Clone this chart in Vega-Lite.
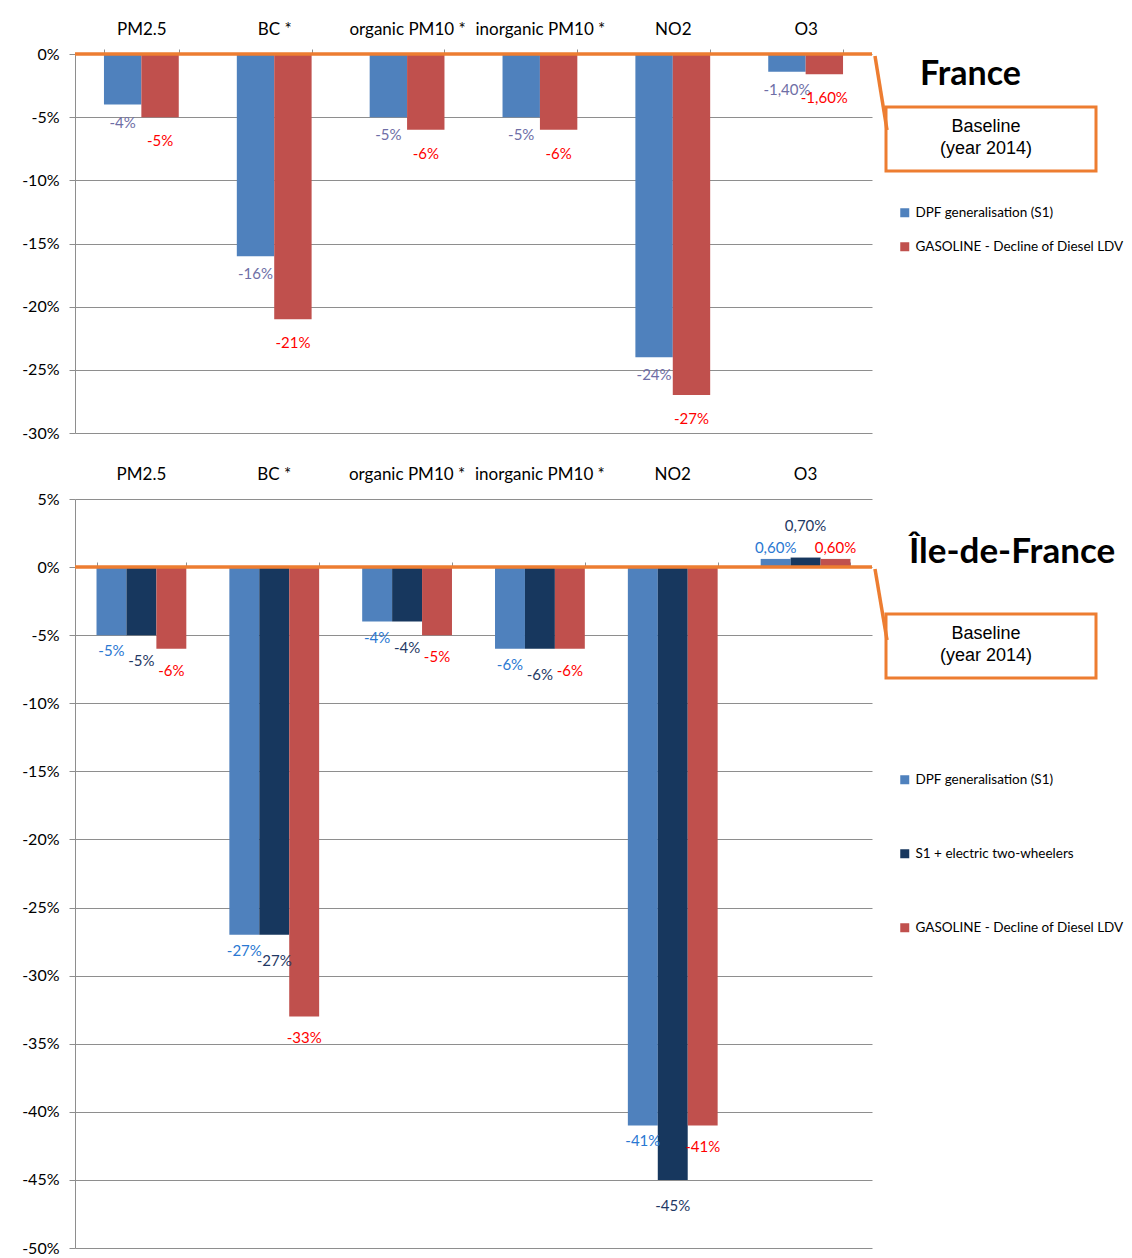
{
  "$schema": "https://vega.github.io/schema/vega-lite/v6.json",
  "background": "white",
  "padding": {"left": 21, "top": 20, "right": 0, "bottom": 0},
  "spacing": 24,
  "config": {"view": {"stroke": null}},
  "resolve": {"scale": {"x": "independent", "y": "independent", "color": "independent", "stroke": "independent", "opacity": "independent", "xOffset": "independent"}},
  "vconcat": [
    {
      "width": 797,
      "height": 379,
      "data": {"values": [
        {"pollutant": "PM2.5", "scenario": "DPF generalisation (S1)", "value": -4, "label": "-4%"},
        {"pollutant": "PM2.5", "scenario": "GASOLINE - Decline of Diesel LDV", "value": -5, "label": "-5%"},
        {"pollutant": "BC *", "scenario": "DPF generalisation (S1)", "value": -16, "label": "-16%"},
        {"pollutant": "BC *", "scenario": "GASOLINE - Decline of Diesel LDV", "value": -21, "label": "-21%"},
        {"pollutant": "organic PM10 *", "scenario": "DPF generalisation (S1)", "value": -5, "label": "-5%"},
        {"pollutant": "organic PM10 *", "scenario": "GASOLINE - Decline of Diesel LDV", "value": -6, "label": "-6%"},
        {"pollutant": "inorganic PM10 *", "scenario": "DPF generalisation (S1)", "value": -5, "label": "-5%"},
        {"pollutant": "inorganic PM10 *", "scenario": "GASOLINE - Decline of Diesel LDV", "value": -6, "label": "-6%"},
        {"pollutant": "NO2", "scenario": "DPF generalisation (S1)", "value": -24, "label": "-24%"},
        {"pollutant": "NO2", "scenario": "GASOLINE - Decline of Diesel LDV", "value": -27, "label": "-27%"},
        {"pollutant": "O3", "scenario": "DPF generalisation (S1)", "value": -1.4, "label": "-1,40%"},
        {"pollutant": "O3", "scenario": "GASOLINE - Decline of Diesel LDV", "value": -1.6, "label": "-1,60%"}
      ]},
      "resolve": {"scale": {"color": "independent"}},
      "layer": [
        {
          "mark": {"type": "bar"},
          "encoding": {
            "x": {"field": "pollutant", "type": "nominal", "sort": ["PM2.5", "BC *", "organic PM10 *", "inorganic PM10 *", "NO2", "O3"],
              "scale": {"paddingInner": 0.437, "paddingOuter": 0.218},
              "axis": {"orient": "top", "title": null, "labelAngle": 0, "domain": false, "tickBand": "extent", "tickSize": 5, "tickColor": "#8E8E8E", "labelPadding": 11, "labelFont": "Lato", "labelFontSize": 17, "labelColor": "#000000", "grid": false}},
            "xOffset": {"field": "scenario", "type": "nominal", "sort": ["DPF generalisation (S1)", "GASOLINE - Decline of Diesel LDV"]},
            "y": {"field": "value", "type": "quantitative", "scale": {"domain": [-30, 0], "nice": false},
              "axis": {"title": null, "values": [-30, -25, -20, -15, -10, -5, 0], "labelExpr": "datum.value + '%'", "grid": true, "gridColor": "#8E8E8E", "domainColor": "#8E8E8E", "tickColor": "#8E8E8E", "tickSize": 6, "labelPadding": 10, "labelFont": "Lato", "labelFontSize": 16, "labelColor": "#000000"}},
            "color": {"field": "scenario", "type": "nominal",
              "scale": {"domain": ["DPF generalisation (S1)", "GASOLINE - Decline of Diesel LDV"], "range": ["#4F81BD", "#C0504D"]},
              "legend": {"orient": "none", "legendX": 823, "legendY": 4, "title": "France", "titleFont": "Lato", "titleFontSize": 34, "titleFontWeight": "bold", "titleColor": "#000000", "titleBaseline": "top", "titleLimit": 400, "titlePadding": 114, "labelFont": "Lato", "labelFontSize": 13.5, "labelColor": "#000000", "labelLimit": 400, "labelOffset": 4, "symbolType": "square", "symbolSize": 81, "symbolStrokeWidth": 0, "rowPadding": 19, "padding": 0,
                "encode": {"title": {"update": {"dx": {"value": 22}}}}}}
          }
        },
        {
          "transform": [{"filter": "datum.scenario == 'DPF generalisation (S1)'"}],
          "mark": {"type": "text", "dy": 18, "font": "Lato", "fontSize": 15, "color": "#6E6EA6"},
          "encoding": {
            "x": {"field": "pollutant", "type": "nominal", "sort": ["PM2.5", "BC *", "organic PM10 *", "inorganic PM10 *", "NO2", "O3"]},
            "xOffset": {"field": "scenario", "type": "nominal", "sort": ["DPF generalisation (S1)", "GASOLINE - Decline of Diesel LDV"]},
            "y": {"field": "value", "type": "quantitative"},
            "text": {"field": "label"}
          }
        },
        {
          "transform": [{"filter": "datum.scenario == 'GASOLINE - Decline of Diesel LDV'"}],
          "mark": {"type": "text", "dy": 24, "font": "Lato", "fontSize": 15, "color": "#FF0000"},
          "encoding": {
            "x": {"field": "pollutant", "type": "nominal", "sort": ["PM2.5", "BC *", "organic PM10 *", "inorganic PM10 *", "NO2", "O3"]},
            "xOffset": {"field": "scenario", "type": "nominal", "sort": ["DPF generalisation (S1)", "GASOLINE - Decline of Diesel LDV"]},
            "y": {"field": "value", "type": "quantitative"},
            "text": {"field": "label"}
          }
        },
        {
          "data": {"values": [{"baseline": "Baseline"}]},
          "mark": {"type": "rule", "strokeWidth": 3.5},
          "encoding": {
            "y": {"datum": 0, "type": "quantitative"},
            "stroke": {"datum": 0, "type": "quantitative", "scale": {"domain": [0, 1], "range": ["#ED7D31", "#ED7D31"]},
              "legend": {"orient": "none", "legendX": 811, "legendY": 53, "direction": "horizontal", "title": ["Baseline", "(year 2014)"], "titleFont": "Liberation Sans", "titleFontSize": 18, "titleFontWeight": "normal", "titleColor": "#000000", "titleAnchor": "middle", "titleAlign": "center", "titleBaseline": "top", "titleLineHeight": 22, "titlePadding": 0, "gradientLength": 188, "gradientThickness": 1, "labelExpr": "''", "labelFontSize": 1, "labelOffset": 0, "padding": 11, "strokeColor": "#ED7D31",
                "encode": {"legend": {"update": {"strokeWidth": {"value": 3}}}, "gradient": {"update": {"opacity": {"value": 0}}}}}},
            "opacity": {"datum": "Baseline", "type": "nominal", "scale": {"domain": ["Baseline"], "range": [1]},
              "legend": {"orient": "none", "legendX": 797, "legendY": -1, "title": null, "labelExpr": "''", "labelFontSize": 1, "labelOffset": 0, "padding": 0, "symbolType": "M0,0L12,74", "symbolSize": 4, "symbolStrokeColor": "#ED7D31", "symbolStrokeWidth": 3.5, "symbolFillColor": "transparent", "symbolOpacity": 1,
                "encode": {"symbols": {"update": {"stroke": {"value": "#ED7D31"}, "strokeWidth": {"value": 3.5}, "fill": {"value": "transparent"}, "opacity": {"value": 1}}}}}}
          }
        }
      ]
    },
    {
      "width": 797,
      "height": 749,
      "data": {"values": [
        {"pollutant": "PM2.5", "scenario": "DPF generalisation (S1)", "value": -5, "label": "-5%"},
        {"pollutant": "PM2.5", "scenario": "S1 + electric two-wheelers", "value": -5, "label": "-5%"},
        {"pollutant": "PM2.5", "scenario": "GASOLINE - Decline of Diesel LDV", "value": -6, "label": "-6%"},
        {"pollutant": "BC *", "scenario": "DPF generalisation (S1)", "value": -27, "label": "-27%"},
        {"pollutant": "BC *", "scenario": "S1 + electric two-wheelers", "value": -27, "label": "-27%"},
        {"pollutant": "BC *", "scenario": "GASOLINE - Decline of Diesel LDV", "value": -33, "label": "-33%"},
        {"pollutant": "organic PM10 *", "scenario": "DPF generalisation (S1)", "value": -4, "label": "-4%"},
        {"pollutant": "organic PM10 *", "scenario": "S1 + electric two-wheelers", "value": -4, "label": "-4%"},
        {"pollutant": "organic PM10 *", "scenario": "GASOLINE - Decline of Diesel LDV", "value": -5, "label": "-5%"},
        {"pollutant": "inorganic PM10 *", "scenario": "DPF generalisation (S1)", "value": -6, "label": "-6%"},
        {"pollutant": "inorganic PM10 *", "scenario": "S1 + electric two-wheelers", "value": -6, "label": "-6%"},
        {"pollutant": "inorganic PM10 *", "scenario": "GASOLINE - Decline of Diesel LDV", "value": -6, "label": "-6%"},
        {"pollutant": "NO2", "scenario": "DPF generalisation (S1)", "value": -41, "label": "-41%"},
        {"pollutant": "NO2", "scenario": "S1 + electric two-wheelers", "value": -45, "label": "-45%"},
        {"pollutant": "NO2", "scenario": "GASOLINE - Decline of Diesel LDV", "value": -41, "label": "-41%"},
        {"pollutant": "O3", "scenario": "DPF generalisation (S1)", "value": 0.6, "label": "0,60%"},
        {"pollutant": "O3", "scenario": "S1 + electric two-wheelers", "value": 0.7, "label": "0,70%"},
        {"pollutant": "O3", "scenario": "GASOLINE - Decline of Diesel LDV", "value": 0.6, "label": "0,60%"}
      ]},
      "resolve": {"scale": {"color": "independent"}, "axis": {"x": "independent"}},
      "layer": [
        {
          "mark": {"type": "bar"},
          "encoding": {
            "x": {"field": "pollutant", "type": "nominal", "sort": ["PM2.5", "BC *", "organic PM10 *", "inorganic PM10 *", "NO2", "O3"],
              "scale": {"paddingInner": 0.324, "paddingOuter": 0.162},
              "axis": {"orient": "top", "title": null, "labelAngle": 0, "domain": false, "ticks": false, "labelPadding": 16, "labelFont": "Lato", "labelFontSize": 17, "labelColor": "#000000", "grid": false}},
            "xOffset": {"field": "scenario", "type": "nominal", "sort": ["DPF generalisation (S1)", "S1 + electric two-wheelers", "GASOLINE - Decline of Diesel LDV"]},
            "y": {"field": "value", "type": "quantitative", "scale": {"domain": [-50, 5], "nice": false},
              "axis": {"title": null, "values": [-50, -45, -40, -35, -30, -25, -20, -15, -10, -5, 0, 5], "labelExpr": "datum.value + '%'", "grid": true, "gridColor": "#8E8E8E", "domainColor": "#8E8E8E", "tickColor": "#8E8E8E", "tickSize": 6, "labelPadding": 10, "labelFont": "Lato", "labelFontSize": 16, "labelColor": "#000000"}},
            "color": {"field": "scenario", "type": "nominal",
              "scale": {"domain": ["DPF generalisation (S1)", "S1 + electric two-wheelers", "GASOLINE - Decline of Diesel LDV"], "range": ["#4F81BD", "#17375E", "#C0504D"]},
              "legend": {"orient": "none", "legendX": 823, "legendY": 36, "title": "Île-de-France", "titleFont": "Lato", "titleFontSize": 35, "titleFontWeight": "bold", "titleColor": "#000000", "titleBaseline": "top", "titleLimit": 400, "titlePadding": 203, "labelFont": "Lato", "labelFontSize": 13.5, "labelColor": "#000000", "labelLimit": 400, "labelOffset": 4, "symbolType": "square", "symbolSize": 81, "symbolStrokeWidth": 0, "rowPadding": 59, "padding": 0,
                "encode": {"title": {"update": {"dx": {"value": 11}}}}}}
          }
        },
        {
          "transform": [{"filter": "datum.value < 0 && datum.scenario == 'DPF generalisation (S1)'"}],
          "mark": {"type": "text", "dy": 16, "font": "Lato", "fontSize": 15, "color": "#2A78D2"},
          "encoding": {
            "x": {"field": "pollutant", "type": "nominal", "sort": ["PM2.5", "BC *", "organic PM10 *", "inorganic PM10 *", "NO2", "O3"],
              "axis": {"orient": "top", "offset": -68, "title": null, "labels": false, "domain": false, "grid": false, "tickBand": "extent", "tickSize": 5, "tickColor": "#8E8E8E"}},
            "xOffset": {"field": "scenario", "type": "nominal", "sort": ["DPF generalisation (S1)", "S1 + electric two-wheelers", "GASOLINE - Decline of Diesel LDV"]},
            "y": {"field": "value", "type": "quantitative"},
            "text": {"field": "label"}
          }
        },
        {
          "transform": [{"filter": "datum.value < 0 && datum.scenario == 'S1 + electric two-wheelers'"}],
          "mark": {"type": "text", "dy": 26, "font": "Lato", "fontSize": 15, "color": "#1F3864"},
          "encoding": {
            "x": {"field": "pollutant", "type": "nominal", "sort": ["PM2.5", "BC *", "organic PM10 *", "inorganic PM10 *", "NO2", "O3"], "axis": null},
            "xOffset": {"field": "scenario", "type": "nominal", "sort": ["DPF generalisation (S1)", "S1 + electric two-wheelers", "GASOLINE - Decline of Diesel LDV"]},
            "y": {"field": "value", "type": "quantitative"},
            "text": {"field": "label"}
          }
        },
        {
          "transform": [{"filter": "datum.value < 0 && datum.scenario == 'GASOLINE - Decline of Diesel LDV'"}],
          "mark": {"type": "text", "dy": 22, "font": "Lato", "fontSize": 15, "color": "#FF0000"},
          "encoding": {
            "x": {"field": "pollutant", "type": "nominal", "sort": ["PM2.5", "BC *", "organic PM10 *", "inorganic PM10 *", "NO2", "O3"], "axis": null},
            "xOffset": {"field": "scenario", "type": "nominal", "sort": ["DPF generalisation (S1)", "S1 + electric two-wheelers", "GASOLINE - Decline of Diesel LDV"]},
            "y": {"field": "value", "type": "quantitative"},
            "text": {"field": "label"}
          }
        },
        {
          "transform": [{"filter": "datum.value > 0 && datum.scenario == 'DPF generalisation (S1)'"}],
          "mark": {"type": "text", "dy": -11, "font": "Lato", "fontSize": 15, "color": "#2A78D2"},
          "encoding": {
            "x": {"field": "pollutant", "type": "nominal", "sort": ["PM2.5", "BC *", "organic PM10 *", "inorganic PM10 *", "NO2", "O3"], "axis": null},
            "xOffset": {"field": "scenario", "type": "nominal", "sort": ["DPF generalisation (S1)", "S1 + electric two-wheelers", "GASOLINE - Decline of Diesel LDV"]},
            "y": {"field": "value", "type": "quantitative"},
            "text": {"field": "label"}
          }
        },
        {
          "transform": [{"filter": "datum.value > 0 && datum.scenario == 'S1 + electric two-wheelers'"}],
          "mark": {"type": "text", "dy": -32, "font": "Lato", "fontSize": 15, "color": "#1F3864"},
          "encoding": {
            "x": {"field": "pollutant", "type": "nominal", "sort": ["PM2.5", "BC *", "organic PM10 *", "inorganic PM10 *", "NO2", "O3"], "axis": null},
            "xOffset": {"field": "scenario", "type": "nominal", "sort": ["DPF generalisation (S1)", "S1 + electric two-wheelers", "GASOLINE - Decline of Diesel LDV"]},
            "y": {"field": "value", "type": "quantitative"},
            "text": {"field": "label"}
          }
        },
        {
          "transform": [{"filter": "datum.value > 0 && datum.scenario == 'GASOLINE - Decline of Diesel LDV'"}],
          "mark": {"type": "text", "dy": -11, "font": "Lato", "fontSize": 15, "color": "#FF0000"},
          "encoding": {
            "x": {"field": "pollutant", "type": "nominal", "sort": ["PM2.5", "BC *", "organic PM10 *", "inorganic PM10 *", "NO2", "O3"], "axis": null},
            "xOffset": {"field": "scenario", "type": "nominal", "sort": ["DPF generalisation (S1)", "S1 + electric two-wheelers", "GASOLINE - Decline of Diesel LDV"]},
            "y": {"field": "value", "type": "quantitative"},
            "text": {"field": "label"}
          }
        },
        {
          "data": {"values": [{"baseline": "Baseline"}]},
          "mark": {"type": "rule", "strokeWidth": 3.5},
          "encoding": {
            "y": {"datum": 0, "type": "quantitative"},
            "stroke": {"datum": 0, "type": "quantitative", "scale": {"domain": [0, 1], "range": ["#ED7D31", "#ED7D31"]},
              "legend": {"orient": "none", "legendX": 811, "legendY": 115, "direction": "horizontal", "title": ["Baseline", "(year 2014)"], "titleFont": "Liberation Sans", "titleFontSize": 18, "titleFontWeight": "normal", "titleColor": "#000000", "titleAnchor": "middle", "titleAlign": "center", "titleBaseline": "top", "titleLineHeight": 22, "titlePadding": 0, "gradientLength": 188, "gradientThickness": 1, "labelExpr": "''", "labelFontSize": 1, "labelOffset": 0, "padding": 11, "strokeColor": "#ED7D31",
                "encode": {"legend": {"update": {"strokeWidth": {"value": 3}}}, "gradient": {"update": {"opacity": {"value": 0}}}}}},
            "opacity": {"datum": "Baseline", "type": "nominal", "scale": {"domain": ["Baseline"], "range": [1]},
              "legend": {"orient": "none", "legendX": 797, "legendY": 67, "title": null, "labelExpr": "''", "labelFontSize": 1, "labelOffset": 0, "padding": 0, "symbolType": "M0,0L12,71", "symbolSize": 4, "symbolStrokeColor": "#ED7D31", "symbolStrokeWidth": 3.5, "symbolFillColor": "transparent", "symbolOpacity": 1,
                "encode": {"symbols": {"update": {"stroke": {"value": "#ED7D31"}, "strokeWidth": {"value": 3.5}, "fill": {"value": "transparent"}, "opacity": {"value": 1}}}}}}
          }
        }
      ]
    }
  ]
}
